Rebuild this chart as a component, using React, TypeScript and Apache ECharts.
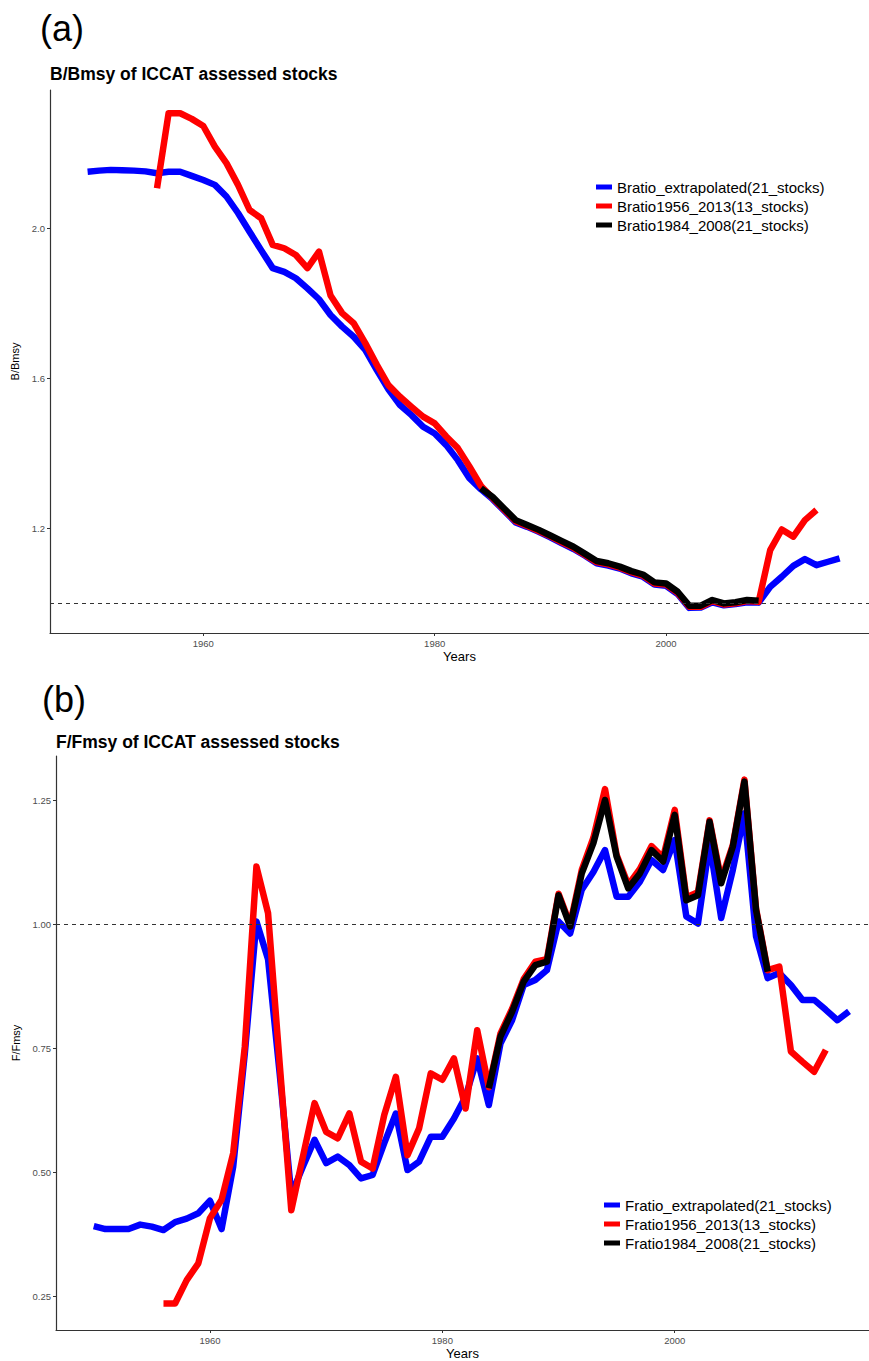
import React, { useEffect, useRef } from "react";
import * as echarts from "echarts";

const YEARS = [
  1950, 1951, 1952, 1953, 1954, 1955, 1956, 1957, 1958, 1959,
  1960, 1961, 1962, 1963, 1964, 1965, 1966, 1967, 1968, 1969,
  1970, 1971, 1972, 1973, 1974, 1975, 1976, 1977, 1978, 1979,
  1980, 1981, 1982, 1983, 1984, 1985, 1986, 1987, 1988, 1989,
  1990, 1991, 1992, 1993, 1994, 1995, 1996, 1997, 1998, 1999,
  2000, 2001, 2002, 2003, 2004, 2005, 2006, 2007, 2008, 2009,
  2010, 2011, 2012, 2013, 2014, 2015,
];
const YEARS_1956_2013 = YEARS.slice(6, 64);
const YEARS_1984_2008 = YEARS.slice(34, 59);

const X_TICKS = [1960, 1980, 2000];
const B_TICKS = [1.2, 1.6, 2.0];
const F_TICKS = [0.25, 0.5, 0.75, 1.0, 1.25];
const REF_LEVEL = 1;

const B_NAMES = [
  "Bratio_extrapolated(21_stocks)",
  "Bratio1956_2013(13_stocks)",
  "Bratio1984_2008(21_stocks)",
];
const F_NAMES = [
  "Fratio_extrapolated(21_stocks)",
  "Fratio1956_2013(13_stocks)",
  "Fratio1984_2008(21_stocks)",
];

// B/Bmsy, 1950-2015
const B_EXTRAP = [
  2.150, 2.153, 2.155, 2.154, 2.153, 2.151, 2.146, 2.150, 2.150, 2.139,
  2.128, 2.115, 2.084, 2.040, 1.990, 1.941, 1.893, 1.883, 1.866, 1.839,
  1.810, 1.768, 1.737, 1.710, 1.675, 1.621, 1.570, 1.528, 1.501, 1.470,
  1.452, 1.421, 1.381, 1.333, 1.303, 1.277, 1.246, 1.215, 1.203, 1.190,
  1.175, 1.159, 1.144, 1.126, 1.106, 1.100, 1.092, 1.079, 1.070, 1.049,
  1.046, 1.024, 0.987, 0.988, 1.002, 0.994, 0.997, 1.002, 1.001, 1.043,
  1.070, 1.099, 1.117, 1.101, 1.110, 1.119,
];
// B/Bmsy, 1956-2013
const B_1956 = [
  2.106, 2.306, 2.306, 2.291, 2.272, 2.217, 2.173, 2.115, 2.048, 2.026,
  1.955, 1.946, 1.928, 1.893, 1.937, 1.820, 1.773, 1.746, 1.693, 1.635,
  1.581, 1.550, 1.523, 1.497, 1.479, 1.444, 1.413, 1.364, 1.312, 1.280,
  1.249, 1.218, 1.205, 1.192, 1.178, 1.162, 1.147, 1.128, 1.109, 1.103,
  1.094, 1.082, 1.073, 1.052, 1.049, 1.027, 0.990, 0.990, 1.005, 0.996,
  0.999, 1.005, 1.003, 1.141, 1.196, 1.177, 1.221, 1.248,
];
// B/Bmsy, 1984-2008
const B_1984 = [
  1.306, 1.283, 1.252, 1.221, 1.208, 1.195, 1.180, 1.165, 1.150, 1.131,
  1.112, 1.106, 1.097, 1.085, 1.076, 1.055, 1.052, 1.030, 0.993, 0.993,
  1.008, 0.999, 1.002, 1.008, 1.006,
];

// F/Fmsy, 1950-2015
const F_EXTRAP = [
  0.392, 0.386, 0.386, 0.386, 0.395, 0.391, 0.384, 0.400, 0.407, 0.418,
  0.443, 0.386, 0.512, 0.740, 1.006, 0.930, 0.700, 0.455, 0.512, 0.566,
  0.519, 0.532, 0.515, 0.488, 0.495, 0.559, 0.619, 0.505, 0.522, 0.572,
  0.572, 0.609, 0.653, 0.730, 0.636, 0.760, 0.807, 0.878, 0.888, 0.908,
  1.006, 0.982, 1.070, 1.106, 1.150, 1.056, 1.056, 1.086, 1.130, 1.110,
  1.170, 1.016, 1.002, 1.164, 1.013, 1.110, 1.224, 0.976, 0.892, 0.902,
  0.878, 0.848, 0.848, 0.828, 0.807, 0.825,
];
// F/Fmsy, 1956-2013
const F_1956 = [
  0.236, 0.236, 0.283, 0.317, 0.408, 0.445, 0.539, 0.754, 1.117, 1.023,
  0.720, 0.424, 0.532, 0.640, 0.582, 0.569, 0.619, 0.522, 0.508, 0.616,
  0.693, 0.535, 0.589, 0.700, 0.687, 0.730, 0.629, 0.787, 0.672, 0.780,
  0.830, 0.890, 0.925, 0.930, 1.062, 1.000, 1.110, 1.175, 1.273, 1.140,
  1.080, 1.112, 1.158, 1.135, 1.231, 1.055, 1.065, 1.210, 1.090, 1.160,
  1.292, 1.032, 0.908, 0.915, 0.744, 0.723, 0.703, 0.747,
];
// F/Fmsy, 1984-2008
const F_1984 = [
  0.670, 0.774, 0.824, 0.885, 0.918, 0.925, 1.059, 0.996, 1.103, 1.164,
  1.251, 1.137, 1.073, 1.103, 1.150, 1.127, 1.221, 1.049, 1.059, 1.207,
  1.083, 1.157, 1.288, 1.029, 0.905,
];

const FONT = "'Liberation Sans', Arial, Helvetica, sans-serif";
const COLORS = ["#0000FF", "#FF0000", "#000000"];

const pair = (years: number[], vals: number[]) => vals.map((v, i) => [years[i], v]);

function xAxis(gridIndex: number, min: number, max: number) {
  return {
    type: "value",
    gridIndex,
    min,
    max,
    name: "Years",
    nameLocation: "middle",
    nameGap: 17,
    nameTextStyle: { fontSize: 13, color: "#000", fontFamily: FONT },
    axisLine: { show: true, lineStyle: { color: "#333", width: 1.2 } },
    axisTick: { show: true, length: 3, customValues: X_TICKS, lineStyle: { color: "#333" } },
    axisLabel: {
      customValues: X_TICKS,
      fontSize: 9.5,
      color: "#4d4d4d",
      margin: 5,
      fontFamily: FONT,
      formatter: (v: number) => String(v),
    },
    splitLine: { show: false },
  };
}

function yAxis(gridIndex: number, min: number, max: number, name: string, ticks: number[], digits: number) {
  return {
    type: "value",
    gridIndex,
    min,
    max,
    name,
    nameLocation: "middle",
    nameRotate: 90,
    nameGap: 30,
    nameTextStyle: { fontSize: 11, color: "#000", fontFamily: FONT },
    axisLine: { show: true, lineStyle: { color: "#333", width: 1.2 } },
    axisTick: { show: true, length: 3, customValues: ticks, lineStyle: { color: "#333" } },
    axisLabel: {
      customValues: ticks,
      fontSize: 9.5,
      color: "#4d4d4d",
      margin: 5,
      fontFamily: FONT,
      formatter: (v: number) => v.toFixed(digits),
    },
    splitLine: { show: false },
  };
}

function line(name: string, data: number[][], color: string, axis: number, z: number) {
  return {
    type: "line",
    name,
    xAxisIndex: axis,
    yAxisIndex: axis,
    data,
    showSymbol: false,
    symbol: "none",
    z,
    itemStyle: { color },
    lineStyle: { color, width: 6.5, join: "round", cap: "butt" },
    emphasis: { disabled: true },
  };
}

function refLine(axis: number) {
  return {
    type: "line",
    xAxisIndex: axis,
    yAxisIndex: axis,
    data: [],
    z: 1,
    silent: true,
    markLine: {
      silent: true,
      symbol: ["none", "none"],
      label: { show: false },
      lineStyle: { type: [4, 4], color: "#333", width: 1 },
      data: [{ yAxis: REF_LEVEL }],
    },
  };
}

function legend(names: string[], left: number, top: number) {
  return {
    data: names,
    left,
    top,
    padding: 0,
    orient: "vertical",
    icon: "rect",
    itemWidth: 16,
    itemHeight: 5,
    itemGap: 4,
    textStyle: { fontSize: 15, color: "#000", lineHeight: 15, fontFamily: FONT },
  };
}

export default function App() {
  const ref = useRef<HTMLDivElement>(null);
  useEffect(() => {
    document.body.style.margin = "0";
    if (!ref.current) return;
    const chart = echarts.init(ref.current, undefined, { renderer: "svg" });
    chart.setOption({
      animation: false,
      backgroundColor: "#fff",
      textStyle: { fontFamily: FONT },
      grid: [
        { left: 50, top: 90, width: 819, height: 543 },
        { left: 56, top: 756, width: 813, height: 574 },
      ],
      xAxis: [xAxis(0, 1946.75, 2017.54), xAxis(1, 1946.75, 2016.72)],
      yAxis: [
        yAxis(0, 0.92, 2.368, "B/Bmsy", B_TICKS, 1),
        yAxis(1, 0.1825, 1.3397, "F/Fmsy", F_TICKS, 2),
      ],
      legend: [legend(B_NAMES, 596, 179.5), legend(F_NAMES, 604, 1197.5)],
      graphic: [
        { type: "text", x: 40, y: 28, style: { text: "(a)", fontSize: 36, fontFamily: FONT, fill: "#000", verticalAlign: "middle" } },
        { type: "text", x: 42, y: 699, style: { text: "(b)", fontSize: 36, fontFamily: FONT, fill: "#000", verticalAlign: "middle" } },
        { type: "text", x: 50, y: 74, style: { text: "B/Bmsy of ICCAT assessed stocks", fontSize: 17.5, fontWeight: "bold", fontFamily: FONT, fill: "#000", verticalAlign: "middle" } },
        { type: "text", x: 56, y: 742, style: { text: "F/Fmsy of ICCAT assessed stocks", fontSize: 17.5, fontWeight: "bold", fontFamily: FONT, fill: "#000", verticalAlign: "middle" } },
      ],
      series: [
        refLine(0),
        line(B_NAMES[0], pair(YEARS, B_EXTRAP), COLORS[0], 0, 2),
        line(B_NAMES[1], pair(YEARS_1956_2013, B_1956), COLORS[1], 0, 3),
        line(B_NAMES[2], pair(YEARS_1984_2008, B_1984), COLORS[2], 0, 4),
        refLine(1),
        line(F_NAMES[0], pair(YEARS, F_EXTRAP), COLORS[0], 1, 2),
        line(F_NAMES[1], pair(YEARS_1956_2013, F_1956), COLORS[1], 1, 3),
        line(F_NAMES[2], pair(YEARS_1984_2008, F_1984), COLORS[2], 1, 4),
      ],
    });
    return () => chart.dispose();
  }, []);
  return <div ref={ref} style={{ width: 869, height: 1361 }} />;
}
